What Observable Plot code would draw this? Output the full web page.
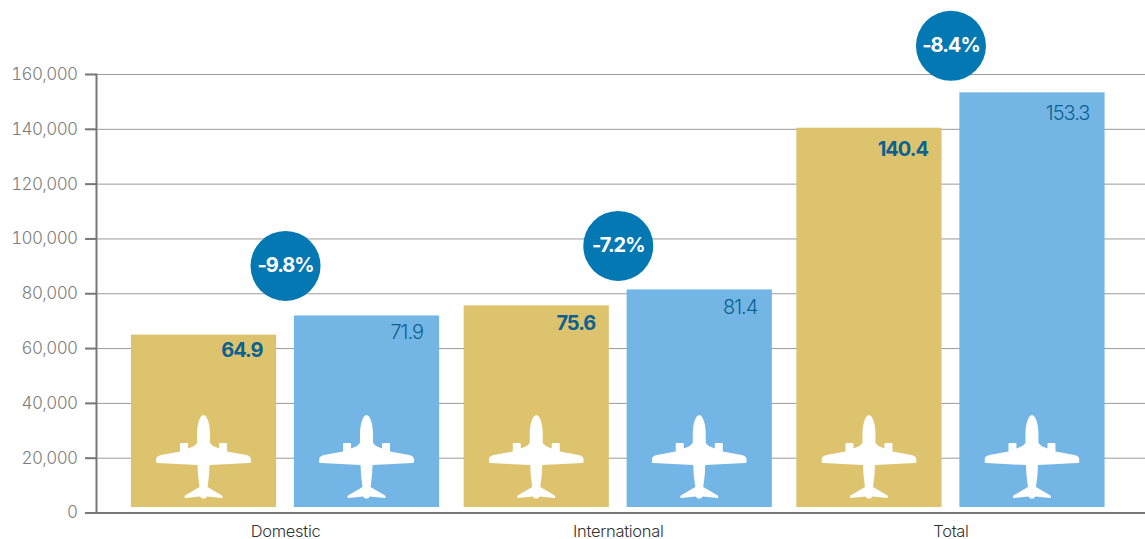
<!DOCTYPE html>
<html>
<head>
<meta charset="utf-8">
<script src="https://cdn.jsdelivr.net/npm/d3@7"></script>
<script src="https://cdn.jsdelivr.net/npm/@observablehq/plot@0.6"></script>
<style>
  html, body { margin: 0; padding: 0; background: #fff; }
  svg { display: block; }
  .yaxis text { letter-spacing: -0.6px; }
  .xaxis text { letter-spacing: -0.3px; }
  .readout text { letter-spacing: -1px; }
</style>
</head>
<body>
<div id="chart"></div>
<script>
// Passenger totals by market, in thousands
const categories = ["Domestic", "International", "Total"];
const currentValues = [64.9, 75.6, 140.4];
const previousValues = [71.9, 81.4, 153.3];
const changes = ["-9.8%", "-7.2%", "-8.4%"];
const yTicks = [0, 20000, 40000, 60000, 80000, 100000, 120000, 140000, 160000];

const rows = (values) => categories.map((category, i) => ({category, value: values[i] * 1000, label: values[i].toFixed(1)}));
const current = rows(currentValues);
const previous = rows(previousValues);

// White aircraft silhouette used as a pictogram on every bar
const planePath = "M47.5 0C51 0 54 9 54 19L54 28L57 31L63 33.5L63 28.5Q63 28 64 28L70 28Q71 28 71 29L71 36.5L90 40Q95 41 95 45L95 47Q95 48 93 48L53.5 50L53 60L51.5 72L66 80.5Q67 82 66 83L51 81.5L49 83.5L46 83.5L44 81.5L29 83Q28 82 29 80.5L43.5 72L42 60L41.5 50L2 48Q0 48 0 47L0 45Q0 41 5 40L24 36.5L24 29Q24 28 25 28L31 28Q32 28 32 28.5L32 33.5L38 31L41 28L41 19C41 9 44 0 47.5 0Z";
const plane = "data:image/svg+xml," + encodeURIComponent(
  `<svg xmlns="http://www.w3.org/2000/svg" viewBox="0 0 95 84" width="95" height="84"><path fill="#fff" d="${planePath}"/></svg>`
);

const font = "Inter, 'Liberation Sans', Arial, sans-serif";
const labelColor = "#0b618f";
const halfGap = 163;          // each bar takes one side of its category band
const goldDrop = [15, 18, 21];
const blueDrop = [17, 18, 20.5];
const blueShift = [137.5, 139, 138.5];
const badgeLift = [50, 44, 47];

const bars = (data, color, side) => Plot.barY(data, {
  x: "category", y: "value", fill: color,
  insetBottom: 5.5,
  insetLeft: side > 0 ? halfGap : 0,
  insetRight: side < 0 ? halfGap : 0
});
const pictograms = (data, dx) => Plot.image(data, {
  x: "category", y: () => 20400, src: () => plane, width: 95, height: 84, dx
});

const chart = Plot.plot({
  width: 1145,
  height: 539,
  marginLeft: 96,
  marginRight: 0,
  marginTop: 74,
  marginBottom: 26.5,
  style: {fontFamily: font, background: "#fff", overflow: "visible"},
  x: {type: "band", domain: categories, range: [96, 1139.5], paddingInner: 0.0737, paddingOuter: 0.105, align: 0.5, round: false, label: null},
  y: {domain: [0, 160000], range: [512.5, 74], label: null},
  marks: [
    Plot.ruleY(yTicks.slice(1), {y: d => d, stroke: "#9a9a9a", strokeWidth: 1}),
    Plot.axisY({ticks: yTicks, tickFormat: d3.format(","), tickSize: 11, tickPadding: 8, stroke: "#777", strokeWidth: 2, strokeOpacity: 1, fill: "#7d7d7d", fontSize: 17, fontWeight: 300, label: null, className: "yaxis"}),
    Plot.axisX({tickSize: 0, tickPadding: 12, fontSize: 16.5, fontWeight: 300, fill: "#333", label: null, className: "xaxis"}),
    Plot.frame({anchor: "left", stroke: "#777", strokeWidth: 2}),
    Plot.frame({anchor: "bottom", stroke: "#777", strokeWidth: 2}),
    bars(current, "#dec36f", -1),
    bars(previous, "#73b6e6", 1),
    pictograms(current, -82),
    pictograms(previous, 81),
    ...categories.map((category, i) => Plot.text([current[i]], {
      x: "category", y: "value", text: "label", textAnchor: "end",
      dx: -23, dy: goldDrop[i], fontSize: 20, fontWeight: 700, fill: labelColor, className: "readout"
    })),
    ...categories.map((category, i) => Plot.text([previous[i]], {
      x: "category", y: "value", text: "label", textAnchor: "end",
      dx: blueShift[i], dy: blueDrop[i], fontSize: 20, fontWeight: 300, fill: labelColor, className: "readout"
    })),
    ...categories.map((category, i) => Plot.dot([previous[i]], {
      x: "category", y: "value", r: 35, fill: "#0478b2", stroke: "none", dy: -badgeLift[i], clip: false
    })),
    ...categories.map((category, i) => Plot.text([previous[i]], {
      x: "category", y: "value", text: () => changes[i], dy: -badgeLift[i], fontSize: 20, fontWeight: 700, fill: "#fff", className: "readout"
    }))
  ]
});
document.getElementById("chart").appendChild(chart);
</script>
</body>
</html>
